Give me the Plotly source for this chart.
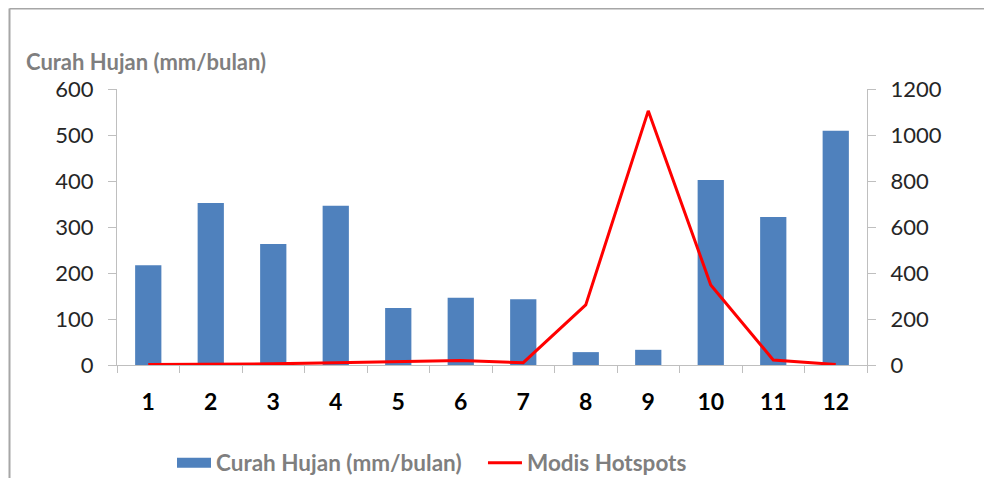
import plotly.graph_objects as go

months = ["1", "2", "3", "4", "5", "6", "7", "8", "9", "10", "11", "12"]
rain = [217, 352, 263, 346, 124, 146, 143, 28, 33, 402, 322, 509]
hotspots = [2, 2, 5, 10, 15, 20, 10, 261, 1105, 348, 22, 2]
left_ticks = [0, 100, 200, 300, 400, 500, 600]
right_ticks = [0, 200, 400, 600, 800, 1000, 1200]

FONT = "Lato"
BLUE = "#4F81BD"
fig = go.Figure()
fig.add_trace(go.Bar(x=months, y=rain, name="Curah Hujan (mm/bulan)", showlegend=False,
                     marker=dict(color=BLUE, line=dict(width=0)), yaxis="y"))
# legend entry drawn as a wide block like the original
fig.add_trace(go.Scatter(x=[None], y=[None], name="Curah Hujan (mm/bulan)\u00a0\u00a0\u00a0", mode="lines",
                         line=dict(color=BLUE, width=13), yaxis="y"))
fig.add_trace(go.Scatter(x=months, y=hotspots, name="Modis Hotspots", mode="lines",
                         line=dict(color="#FF0000", width=3), yaxis="y2"))

OFF = 8  # page body margin
W, H = 976, 470
L, T = 117 - OFF, 89 - OFF
R = W - (867 - OFF)
B = H - (365 - OFF)
pw, ph = W - L - R, H - T - B

def px(xr):
    return (xr - OFF - L) / pw

def py(yr):
    return (H - B - (yr - OFF)) / ph

fig.update_layout(
    width=W, height=H,
    margin=dict(l=L, r=R, t=T, b=B, autoexpand=False),
    paper_bgcolor="white", plot_bgcolor="white",
    font=dict(family=FONT, size=22, color="#262626"),
    bargap=0.58,
    showlegend=True,
    legend=dict(orientation="h", x=px(172), xanchor="left", y=py(463), yanchor="middle",
                font=dict(family=FONT, size=22.5, color="#7F7F7F", weight="bold"),
                itemwidth=34, tracegroupgap=0),
    xaxis=dict(type="category", showline=True, linecolor="#BFBFBF", linewidth=1,
               ticks="outside", tickson="boundaries", ticklen=7, tickcolor="#BFBFBF",
               tickfont=dict(family=FONT, size=23, color="#000000", weight="bold"),
               ticklabelstandoff=16, showgrid=False, zeroline=False, automargin=False),
    yaxis=dict(range=[0, 600], tickvals=left_ticks, showline=True, linecolor="#BFBFBF",
               ticks="outside", ticklen=8, tickcolor="#BFBFBF", showgrid=False, zeroline=False,
               tickfont=dict(family=FONT, size=22, color="#262626"), ticklabelstandoff=10,
               automargin=False),
    yaxis2=dict(range=[0, 1200], tickvals=right_ticks, overlaying="y", side="right",
                showline=True, linecolor="#BFBFBF", ticks="outside", ticklen=8,
                tickcolor="#BFBFBF", showgrid=False, zeroline=False,
                tickfont=dict(family=FONT, size=22, color="#262626"), ticklabelstandoff=10,
                automargin=False),
    annotations=[dict(text="<b>Curah Hujan (mm/bulan)</b>", xref="paper", yref="paper",
                      x=px(24), y=py(61), xanchor="left", yanchor="middle", showarrow=False,
                      font=dict(family=FONT, size=22, color="#7F7F7F"))],
    shapes=[
        dict(type="line", xref="paper", yref="paper", x0=px(9.5), x1=px(984),
             y0=py(8.5), y1=py(8.5), line=dict(color="#A6A6A6", width=2), layer="below"),
        dict(type="line", xref="paper", yref="paper", x0=px(9.5), x1=px(9.5),
             y0=py(8.5), y1=py(500), line=dict(color="#A6A6A6", width=2), layer="below"),
    ],
)

fig.write_html("out.html")
